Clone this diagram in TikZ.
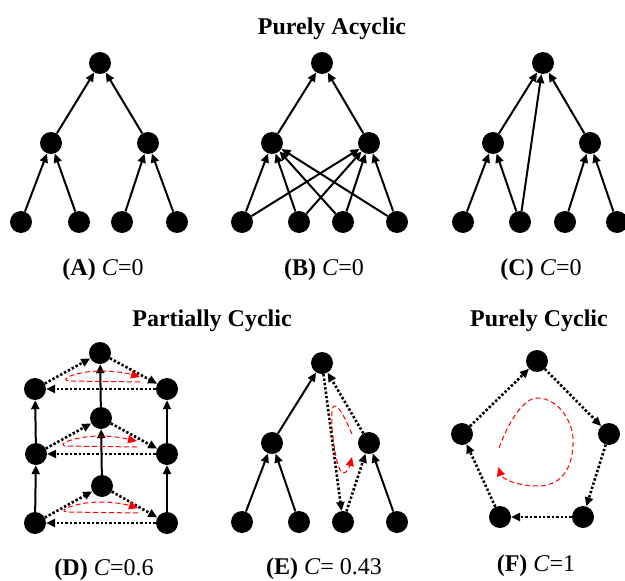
\documentclass[tikz,border=0pt]{standalone}
\usepackage{fontspec}
\setmainfont{Liberation Serif}
\usetikzlibrary{arrows.meta}
\tikzset{
  >={Triangle[length=9pt,width=8pt]},
  dot/.style={circle,fill=black,minimum size=22pt,inner sep=0pt},
  solidedge/.style={->,line width=2pt},
  dotedge/.style={->,line width=2.6pt,dash pattern=on 2.4pt off 2pt},
  flow/.style={-{Triangle[length=9pt,width=8pt]},red,line width=1pt,dash pattern=on 5pt off 3pt},
  title/.style={font=\fontsize{24}{28}\selectfont\bfseries,anchor=base},
  caption/.style={font=\fontsize{24}{28}\selectfont,anchor=base}
}
\begin{document}
\begin{tikzpicture}[x=1pt,y=-1pt]
			\useasboundingbox (0,0) rectangle (625,581);
			% titles
			\node[title] (tacyc) at (332,34) {Purely Acyclic};
			\node[title] (tpart) at (212,326) {Partially Cyclic};
			\node[title] (tcyc) at (539,326) {Purely Cyclic};
			% (A)
			\node[dot] (At) at (100,63) {};
			\node[dot] (Al) at (51,143) {};
			\node[dot] (Ar) at (148,143) {};
			\node[dot] (A1) at (21,222) {};
			\node[dot] (A2) at (79,222) {};
			\node[dot] (A3) at (122,222) {};
			\node[dot] (A4) at (177,222) {};
			\draw[solidedge] (Al) -- (At);
			\draw[solidedge] (Ar) -- (At);
			\draw[solidedge] (A1) -- (Al);
			\draw[solidedge] (A2) -- (Al);
			\draw[solidedge] (A3) -- (Ar);
			\draw[solidedge] (A4) -- (Ar);
			\node[caption] (capA) at (103,275) {\textbf{(A)} \textit{C}=0};
			% (B)
			\node[dot] (Bt) at (322,63) {};
			\node[dot] (Bl) at (272,143) {};
			\node[dot] (Br) at (369,143) {};
			\node[dot] (B1) at (242,222) {};
			\node[dot] (B2) at (299,222) {};
			\node[dot] (B3) at (343,222) {};
			\node[dot] (B4) at (397,222) {};
			\draw[solidedge] (Bl) -- (Bt);
			\draw[solidedge] (Br) -- (Bt);
			\draw[solidedge] (B1) -- (Bl);
			\draw[solidedge] (B1) -- (Br);
			\draw[solidedge] (B2) -- (Bl);
			\draw[solidedge] (B2) -- (Br);
			\draw[solidedge] (B3) -- (Bl);
			\draw[solidedge] (B3) -- (Br);
			\draw[solidedge] (B4) -- (Bl);
			\draw[solidedge] (B4) -- (Br);
			\node[caption] (capB) at (324,275) {\textbf{(B)} \textit{C}=0};
			% (C)
			\node[dot] (Ct) at (543,63) {};
			\node[dot] (Cl) at (493,143) {};
			\node[dot] (Cr) at (590,143) {};
			\node[dot] (C1) at (463,222) {};
			\node[dot] (C2) at (520,222) {};
			\node[dot] (C3) at (565,222) {};
			\node[dot] (C4) at (617,222) {};
			\draw[solidedge] (Cl) -- (Ct);
			\draw[solidedge] (Cr) -- (Ct);
			\draw[solidedge] (C2) -- (Ct);
			\draw[solidedge] (C1) -- (Cl);
			\draw[solidedge] (C2) -- (Cl);
			\draw[solidedge] (C3) -- (Cr);
			\draw[solidedge] (C4) -- (Cr);
			\node[caption] (capC) at (541,275) {\textbf{(C)} \textit{C}=0};
			% (D)
			\node[dot] (Dt) at (100,353) {};
			\node[dot] (Dul) at (35,389) {};
			\node[dot] (Dur) at (167,389) {};
			\node[dot] (Dmc) at (101,418) {};
			\node[dot] (Dml) at (36,454) {};
			\node[dot] (Dmr) at (167,454) {};
			\node[dot] (Dbc) at (102,486) {};
			\node[dot] (Dbl) at (35,523) {};
			\node[dot] (Dbr) at (167,523) {};
			\draw[dotedge] (Dul) -- (Dt);
			\draw[dotedge] (Dt) -- (Dur);
			\draw[dotedge] (Dur) -- (Dul);
			\draw[dotedge] (Dml) -- (Dmc);
			\draw[dotedge] (Dmc) -- (Dmr);
			\draw[dotedge] (Dmr) -- (Dml);
			\draw[dotedge] (Dbl) -- (Dbc);
			\draw[dotedge] (Dbc) -- (Dbr);
			\draw[dotedge] (Dbr) -- (Dbl);
			\draw[solidedge] (Dml) -- (Dul);
			\draw[solidedge] (Dbl) -- (Dml);
			\draw[solidedge] (Dmr) -- (Dur);
			\draw[solidedge] (Dbr) -- (Dmr);
			\draw[solidedge] (Dmc) -- (Dt);
			\draw[solidedge] (Dbc) -- (Dmc);
			\draw[flow] (140,382) -- (70,381) .. controls (56,380) and (78,371) .. (100,371) .. controls (118,371) and (130,374) .. (140,377);
			\draw[flow] (137,447) -- (67,446) .. controls (53,445) and (76,436) .. (100,436) .. controls (116,436) and (127,439) .. (137,441);
			\draw[flow] (138,513) -- (68,512) .. controls (54,511) and (77,502) .. (100,502) .. controls (117,502) and (128,505) .. (138,508);
			\node[caption] (capD) at (104,575) {\textbf{(D)} \textit{C}=0.6};
			% (E)
			\node[dot] (Et) at (322,363) {};
			\node[dot] (El) at (272,443) {};
			\node[dot] (Er) at (369,443) {};
			\node[dot] (E1) at (242,522) {};
			\node[dot] (E2) at (299,522) {};
			\node[dot] (E3) at (343,522) {};
			\node[dot] (E4) at (397,522) {};
			\draw[solidedge] (El) -- (Et);
			\draw[solidedge] (E1) -- (El);
			\draw[solidedge] (E2) -- (El);
			\draw[solidedge] (E4) -- (Er);
			\draw[dotedge] (Et) -- (E3);
			\draw[dotedge] (E3) -- (Er);
			\draw[dotedge] (Er) -- (Et);
			\draw[flow] (352,434) .. controls (346,420) and (339,405) .. (334,406) .. controls (328,408) and (335,472) .. (343,473) .. controls (347,474) and (350,465) .. (352,457);
			\node[caption] (capE) at (324,574) {\textbf{(E)} \textit{C}= 0.43};
			% (F)
			\node[dot] (Ft) at (537,361) {};
			\node[dot] (Fr) at (609,434) {};
			\node[dot] (Fbr) at (583,517) {};
			\node[dot] (Fbl) at (500,517) {};
			\node[dot] (Fl) at (462,434) {};
			\draw[dotedge] (Fl) -- (Ft);
			\draw[dotedge] (Ft) -- (Fr);
			\draw[dotedge] (Fr) -- (Fbr);
			\draw[dotedge] (Fbr) -- (Fbl);
			\draw[dotedge] (Fbl) -- (Fl);
			\draw[flow] (499,448) .. controls (510,418) and (525,398) .. (537,398) .. controls (560,398) and (575,425) .. (573,445) .. controls (572,470) and (560,486) .. (538,486) .. controls (515,486) and (502,478) .. (498,467);
			\node[caption] (capF) at (536,571) {\textbf{(F)} \textit{C}=1};
		\end{tikzpicture}
\end{document}
